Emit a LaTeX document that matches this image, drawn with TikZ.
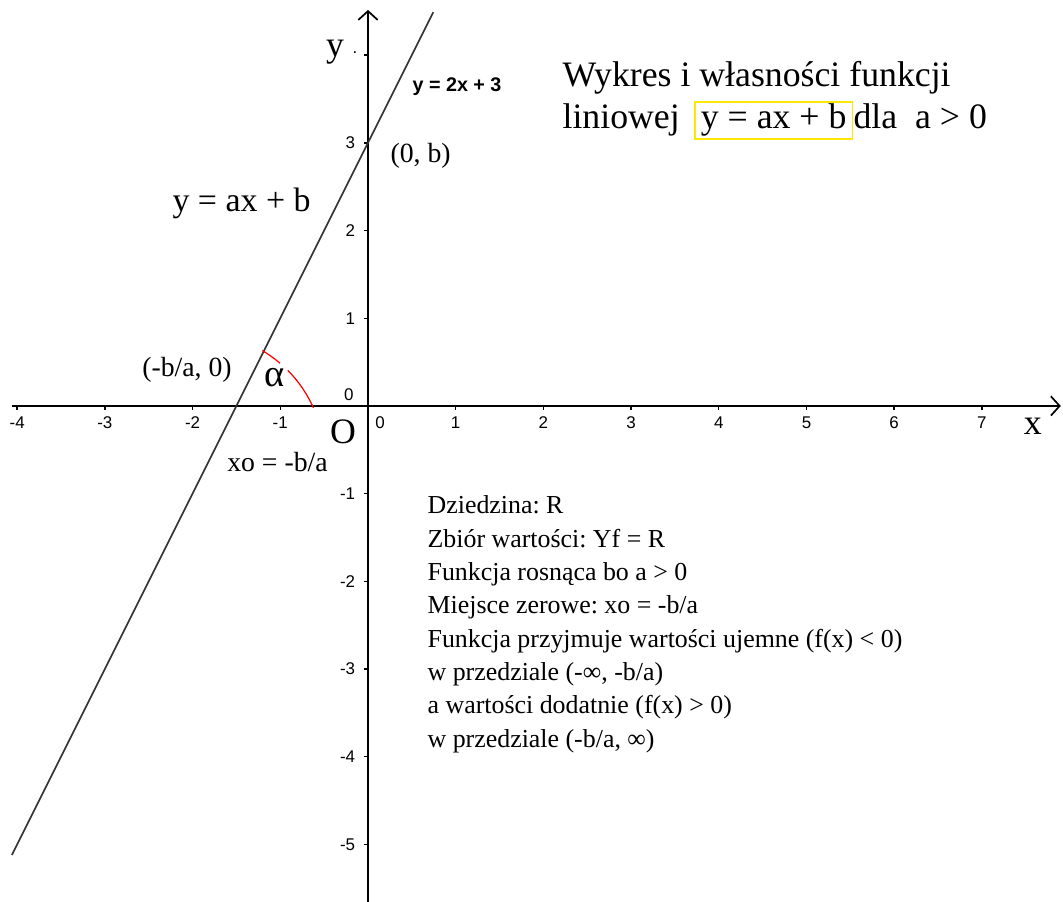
\documentclass[tikz,border=0pt]{standalone}
\usepackage{fontspec}
\setmainfont{Liberation Serif}
\setsansfont{Liberation Sans}
\usepackage{tikz}
\usetikzlibrary{arrows.meta,positioning}
\frenchspacing
\tikzset{
  axisline/.style={line width=0.55pt, black, -{Straight Barb[length=1mm,width=2.2mm]}},
  tickmark/.style={line width=0.45pt, black},
  ticklab/.style={font=\sffamily\fontsize{5.5}{6.5}\selectfont, inner sep=0pt},
  graph/.style={line width=0.55pt, black!80},
  lab/.style={font=\fontsize{9}{10}\selectfont, anchor=base west, inner sep=0pt},
  big/.style={font=\fontsize{11.6}{13.7}\selectfont, inner sep=0pt},
  note/.style={font=\fontsize{8.4}{10.8}\selectfont, anchor=base west, inner sep=0pt},
}

\begin{document}
\begin{tikzpicture}
\useasboundingbox (-4.196,-5.656) rectangle (7.925,4.629);
\draw[axisline] (-4.06,0) -- (7.90,0);
\draw[axisline] (0,-5.75) -- (0,4.515);
\foreach \x in {-4,-3,-2,-1,1,2,3,4,5,6,7} {
  \draw[tickmark] (\x,0) -- (\x,-0.05);
  \node[ticklab, anchor=base] (tx\x) at (\x,-0.262) {\x};
}
\foreach \y in {-5,-4,-3,-2,-1,1,2,3} {
  \draw[tickmark] (0,\y) -- (-0.05,\y);
  \node[ticklab, anchor=east] (ty\y) at (-0.14,\y) {\y};
}
\draw[tickmark] (0,4) -- (-0.05,4);
\node[ticklab] (ty4) at (-0.148,4.025) {.};
\node[ticklab] (zeroy) at (-0.217,0.125) {0};
\node[ticklab] (zerox) at (0.137,-0.194) {0};
\draw[graph] plot[domain=-4.06:0.745] (\x,{2*\x+3});
\coordinate (kat) at (-1.934,-0.607);
\draw[red, line width=0.4pt] ([shift={(59.5:1.437)}]kat) arc[start angle=59.5, end angle=49.6, radius=1.437];
\draw[red, line width=0.4pt] ([shift={(44.8:1.437)}]kat) arc[start angle=44.8, end angle=24.1, radius=1.437];
\node[big, font=\fontsize{12.5}{14}\selectfont] (alfa) at (-1.06,0.32) {α};
\node[big, anchor=base] (ylab) at (-0.376,3.98) {y};
\node[big, anchor=base] (xlab) at (7.58,-0.331) {x};
\node[big] (orig) at (-0.285,-0.296) {O};
\node[font=\sffamily\bfseries\fontsize{6.4}{7.4}\selectfont, anchor=base west, inner sep=0pt] (wykres) at (0.502,3.58) {y = 2x + 3};
\node[lab] (p0b) at (0.251,2.771) {(0, b)};
\node[lab] (pba) at (-2.58,0.334) {(-b/a, 0)};
\node[lab] (x0) at (-1.611,-0.749) {xo = -b/a};
\node[lab, font=\fontsize{11}{13}\selectfont] (ogolny) at (-2.235,2.212) {y = ax + b};
\node[big, anchor=base west] (tyt1) at (2.212,3.641) {Wykres i własności funkcji};
\node[big, anchor=base west] (tyt2) at (2.212,3.159) {liniowej};
\node[big, anchor=base west, draw=yellow!90!orange, line width=0.5pt, inner xsep=2pt, inner ysep=0.7pt, text height=8pt, text depth=2.6pt] (wzor) at (3.717,3.159) {y = ax + b};
\node[big, anchor=base west] (tyt3) at (5.530,3.159) {dla~~a > 0};
\foreach \t [count=\i] in {Dziedzina: R, Zbiór wartości: Yf = R, Funkcja rosnąca bo a > 0, Miejsce zerowe: xo = -b/a, {Funkcja przyjmuje wartości ujemne (f(x) < 0)}, {w przedziale (-∞, -b/a)}, {a wartości dodatnie (f(x) > 0)}, {w przedziale (-b/a, ∞)}}
  \node[note] (w\i) at (0.673,{-1.231-(\i-1)*0.38}) {\t};
\end{tikzpicture}
\end{document}
